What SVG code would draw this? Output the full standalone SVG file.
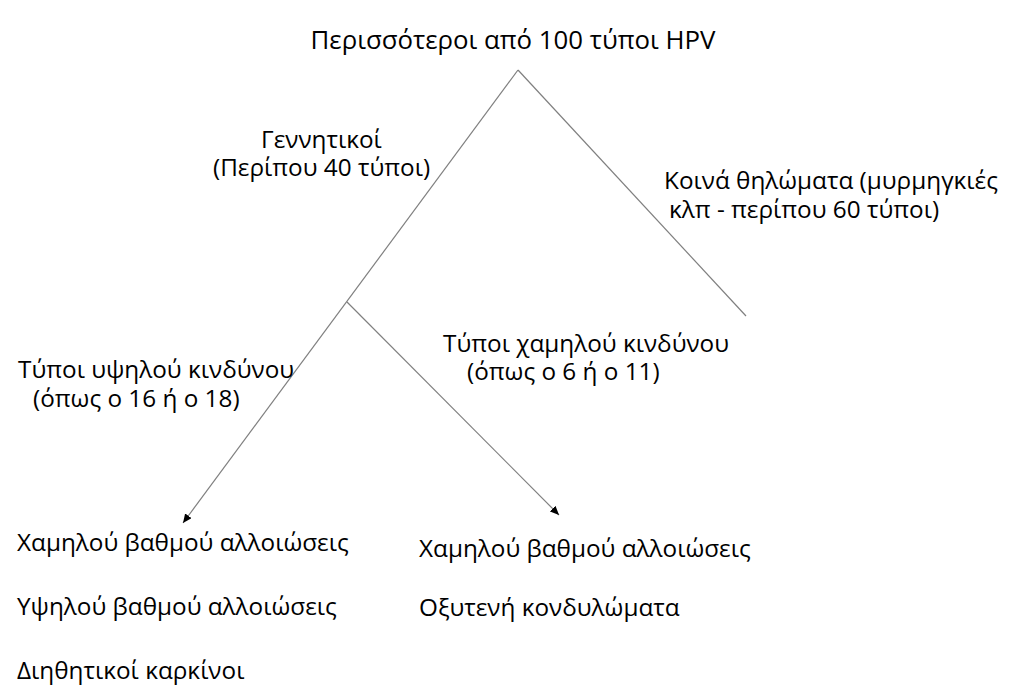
<svg xmlns="http://www.w3.org/2000/svg" width="1024" height="691" viewBox="0 0 1024 691">
<style>
text{font-family:"Open Sans","Noto Sans","DejaVu Sans",sans-serif;font-size:24.3px;fill:#000}
.title{font-size:25.8px}
.ln{stroke:#7f7f7f;stroke-width:1.2;fill:none}
</style>
<defs>
<marker id="ah" markerUnits="userSpaceOnUse" markerWidth="10" markerHeight="8" refX="9" refY="4" orient="auto">
<path d="M0,0 L9,4 L0,8 Z" fill="#000"/>
</marker>
</defs>
<rect width="1024" height="691" fill="#fff"/>
<g id="connectors">
<line class="ln" x1="518" y1="70" x2="746" y2="316"/>
<line class="ln" x1="518" y1="70" x2="183" y2="523" marker-end="url(#ah)"/>
<line class="ln" x1="347" y1="302" x2="559" y2="515" marker-end="url(#ah)"/>
</g>
<g id="root"><text class="title" x="513" y="49" text-anchor="middle">Περισσότεροι από 100 τύποι HPV</text></g>
<g id="genital">
<text><tspan x="261" y="148">Γεννητικοί</tspan><tspan x="213" y="176">(Περίπου 40 τύποι)</tspan></text>
</g>
<g id="warts">
<text><tspan x="664" y="189">Κοινά θηλώματα (μυρμηγκιές</tspan><tspan x="669" y="218">κλπ - περίπου 60 τύποι)</tspan></text>
</g>
<g id="highrisk">
<text><tspan x="18" y="378">Τύποι υψηλού κινδύνου</tspan><tspan x="33" y="407">(όπως ο 16 ή ο 18)</tspan></text>
</g>
<g id="lowrisk">
<text><tspan x="443" y="352">Τύποι χαμηλού κινδύνου</tspan><tspan x="467" y="380">(όπως ο 6 ή ο 11)</tspan></text>
</g>
<g id="highrisk-outcomes">
<text x="17" y="551">Χαμηλού βαθμού αλλοιώσεις</text>
<text x="17" y="615">Υψηλού βαθμού αλλοιώσεις</text>
<text x="17" y="679">Διηθητικοί καρκίνοι</text>
</g>
<g id="lowrisk-outcomes">
<text x="419" y="557">Χαμηλού βαθμού αλλοιώσεις</text>
<text x="419" y="616">Οξυτενή κονδυλώματα</text>
</g>
</svg>
